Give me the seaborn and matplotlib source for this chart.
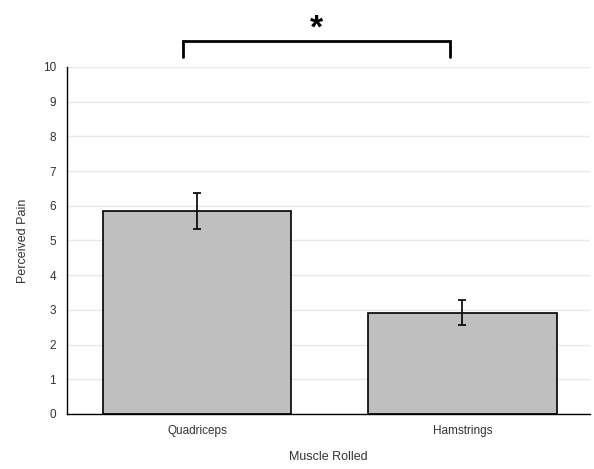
import matplotlib
matplotlib.use("Agg")
import matplotlib.pyplot as plt
import seaborn as sns
import pandas as pd

categories = ["Quadriceps", "Hamstrings"]
pain_means = [5.85, 2.92]
pain_errors = [0.51, 0.37]
y_ticks = list(range(0, 11))

sns.set_theme(style="white")
plt.rcParams["font.family"] = ["Liberation Sans", "DejaVu Sans"]

df = pd.DataFrame({"Muscle Rolled": categories, "Perceived Pain": pain_means})

fig = plt.figure(figsize=(5.94, 4.69), dpi=100)
ax = fig.add_axes([0.1128, 0.1173, 0.880, 0.740])

sns.barplot(data=df, x="Muscle Rolled", y="Perceived Pain", color="#bfbfbf",
            edgecolor="black", linewidth=1.2, width=0.71, errorbar=None,
            saturation=1, ax=ax, zorder=2)
ax.errorbar(range(len(categories)), pain_means, yerr=pain_errors, fmt="none",
            ecolor="black", elinewidth=1.2, capsize=3, capthick=1.2, zorder=3)

ax.set_ylim(0, 10)
ax.set_xlim(-0.49, 1.48)
ax.set_yticks(y_ticks)
ax.yaxis.grid(True, color="#e8e8e8", linewidth=1)
ax.set_axisbelow(True)
for s in ["top", "right"]:
    ax.spines[s].set_visible(False)
for s in ["left", "bottom"]:
    ax.spines[s].set_color("black")
    ax.spines[s].set_linewidth(1)
ax.tick_params(axis="both", length=0, labelsize=8.5, colors="#333333", pad=8)
ax.set_xlabel("Muscle Rolled", fontsize=9, color="#333333", labelpad=10)
ax.set_ylabel("Perceived Pain", fontsize=9, color="#333333", labelpad=10)

# significance bracket
bx0, bx1 = -0.053, 0.955
ax.plot([bx0, bx0, bx1, bx1], [10.29, 10.75, 10.75, 10.29], color="black",
        linewidth=2, clip_on=False, solid_joinstyle="miter")
ax.text((bx0 + bx1) / 2, 11.1, "*", ha="center", va="center", fontsize=24,
        fontweight="bold", color="black", clip_on=False)

fig.savefig("out.png", dpi=100)
